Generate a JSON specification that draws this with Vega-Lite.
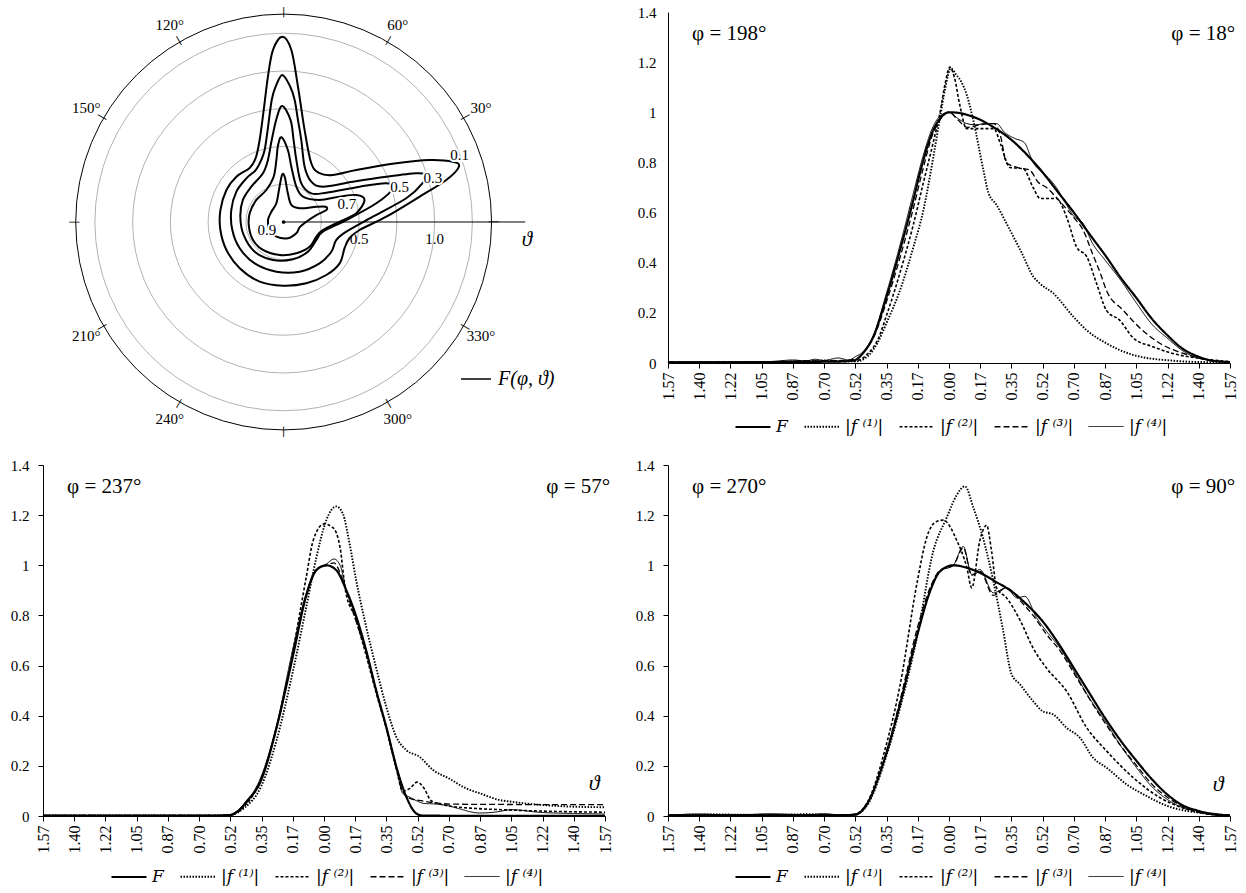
{
"$schema": "https://vega.github.io/schema/vega-lite/v6.json",
"padding": {"left": 10, "top": 5, "right": 5, "bottom": 5},
"background": "white",
"config": {"view": {"stroke": null}, "font": "Liberation Serif", "axis": {"labelFont": "Liberation Serif", "labelFontSize": 15, "labelColor": "black", "domainColor": "black", "tickColor": "black", "grid": false, "labelOverlap": false}},
"datasets": {
"rings": [{"r":0.25},{"r":0.5},{"r":0.75},{"r":1.0},{"r":1.25},{"r":1.377}],
"ticks": [{"deg":0},{"deg":30},{"deg":60},{"deg":90},{"deg":120},{"deg":150},{"deg":180},{"deg":210},{"deg":240},{"deg":270},{"deg":300},{"deg":330}],
"deglabels": [{"deg":30,"label":"30°"},{"deg":60,"label":"60°"},{"deg":120,"label":"120°"},{"deg":150,"label":"150°"},{"deg":210,"label":"210°"},{"deg":240,"label":"240°"},{"deg":300,"label":"300°"},{"deg":330,"label":"330°"}],
"rlabels": [{"v":0.5,"t":"0.5"},{"v":1.0,"t":"1.0"}],
"clabels": [{"t":"0.1","x":1.166,"y":0.444},{"t":"0.3","x":0.989,"y":0.289},{"t":"0.5","x":0.768,"y":0.234},{"t":"0.7","x":0.419,"y":0.119},{"t":"0.9","x":-0.111,"y":-0.053}],
"contours": [
{"lv":"0.1","i":0,"x":-0.009,"y":1.227},{"lv":"0.1","i":1,"x":-0.071,"y":1.139},{"lv":"0.1","i":2,"x":-0.104,"y":0.963},{"lv":"0.1","i":3,"x":-0.132,"y":0.742},{"lv":"0.1","i":4,"x":-0.159,"y":0.543},{"lv":"0.1","i":5,"x":-0.185,"y":0.424},{"lv":"0.1","i":6,"x":-0.225,"y":0.358},{"lv":"0.1","i":7,"x":-0.313,"y":0.3},{"lv":"0.1","i":8,"x":-0.379,"y":0.212},{"lv":"0.1","i":9,"x":-0.419,"y":0.079},{"lv":"0.1","i":10,"x":-0.419,"y":-0.053},{"lv":"0.1","i":11,"x":-0.379,"y":-0.185},{"lv":"0.1","i":12,"x":-0.291,"y":-0.307},{"lv":"0.1","i":13,"x":-0.159,"y":-0.395},{"lv":"0.1","i":14,"x":-0.005,"y":-0.422},{"lv":"0.1","i":15,"x":0.15,"y":-0.406},{"lv":"0.1","i":16,"x":0.283,"y":-0.351},{"lv":"0.1","i":17,"x":0.371,"y":-0.274},{"lv":"0.1","i":18,"x":0.404,"y":-0.172},{"lv":"0.1","i":19,"x":0.437,"y":-0.106},{"lv":"0.1","i":20,"x":0.503,"y":-0.053},{"lv":"0.1","i":21,"x":0.68,"y":0.035},{"lv":"0.1","i":22,"x":0.901,"y":0.168},{"lv":"0.1","i":23,"x":1.077,"y":0.278},{"lv":"0.1","i":24,"x":1.161,"y":0.366},{"lv":"0.1","i":25,"x":1.121,"y":0.399},{"lv":"0.1","i":26,"x":0.967,"y":0.411},{"lv":"0.1","i":27,"x":0.746,"y":0.389},{"lv":"0.1","i":28,"x":0.481,"y":0.344},{"lv":"0.1","i":29,"x":0.325,"y":0.311},{"lv":"0.1","i":30,"x":0.238,"y":0.323},{"lv":"0.1","i":31,"x":0.183,"y":0.389},{"lv":"0.1","i":32,"x":0.139,"y":0.609},{"lv":"0.1","i":33,"x":0.095,"y":0.896},{"lv":"0.1","i":34,"x":0.051,"y":1.139},
{"lv":"0.3","i":0,"x":-0.009,"y":0.974},{"lv":"0.3","i":1,"x":-0.053,"y":0.896},{"lv":"0.3","i":2,"x":-0.079,"y":0.808},{"lv":"0.3","i":3,"x":-0.106,"y":0.609},{"lv":"0.3","i":4,"x":-0.126,"y":0.477},{"lv":"0.3","i":5,"x":-0.148,"y":0.411},{"lv":"0.3","i":6,"x":-0.185,"y":0.344},{"lv":"0.3","i":7,"x":-0.247,"y":0.289},{"lv":"0.3","i":8,"x":-0.313,"y":0.201},{"lv":"0.3","i":9,"x":-0.347,"y":0.079},{"lv":"0.3","i":10,"x":-0.34,"y":-0.053},{"lv":"0.3","i":11,"x":-0.291,"y":-0.174},{"lv":"0.3","i":12,"x":-0.192,"y":-0.274},{"lv":"0.3","i":13,"x":-0.048,"y":-0.329},{"lv":"0.3","i":14,"x":0.106,"y":-0.329},{"lv":"0.3","i":15,"x":0.238,"y":-0.274},{"lv":"0.3","i":16,"x":0.316,"y":-0.197},{"lv":"0.3","i":17,"x":0.349,"y":-0.119},{"lv":"0.3","i":18,"x":0.415,"y":-0.064},{"lv":"0.3","i":19,"x":0.591,"y":0.035},{"lv":"0.3","i":20,"x":0.812,"y":0.157},{"lv":"0.3","i":21,"x":0.919,"y":0.256},{"lv":"0.3","i":22,"x":0.934,"y":0.311},{"lv":"0.3","i":23,"x":0.879,"y":0.323},{"lv":"0.3","i":24,"x":0.68,"y":0.3},{"lv":"0.3","i":25,"x":0.459,"y":0.267},{"lv":"0.3","i":26,"x":0.26,"y":0.234},{"lv":"0.3","i":27,"x":0.183,"y":0.267},{"lv":"0.3","i":28,"x":0.139,"y":0.366},{"lv":"0.3","i":29,"x":0.117,"y":0.543},{"lv":"0.3","i":30,"x":0.095,"y":0.675},{"lv":"0.3","i":31,"x":0.073,"y":0.808},{"lv":"0.3","i":32,"x":0.044,"y":0.896},
{"lv":"0.5","i":0,"x":-0.009,"y":0.768},{"lv":"0.5","i":1,"x":-0.046,"y":0.689},{"lv":"0.5","i":2,"x":-0.079,"y":0.543},{"lv":"0.5","i":3,"x":-0.104,"y":0.411},{"lv":"0.5","i":4,"x":-0.137,"y":0.323},{"lv":"0.5","i":5,"x":-0.214,"y":0.234},{"lv":"0.5","i":6,"x":-0.27,"y":0.146},{"lv":"0.5","i":7,"x":-0.287,"y":0.035},{"lv":"0.5","i":8,"x":-0.265,"y":-0.086},{"lv":"0.5","i":9,"x":-0.192,"y":-0.197},{"lv":"0.5","i":10,"x":-0.071,"y":-0.252},{"lv":"0.5","i":11,"x":0.062,"y":-0.247},{"lv":"0.5","i":12,"x":0.161,"y":-0.197},{"lv":"0.5","i":13,"x":0.217,"y":-0.119},{"lv":"0.5","i":14,"x":0.26,"y":-0.064},{"lv":"0.5","i":15,"x":0.415,"y":0.013},{"lv":"0.5","i":16,"x":0.614,"y":0.124},{"lv":"0.5","i":17,"x":0.724,"y":0.223},{"lv":"0.5","i":18,"x":0.68,"y":0.256},{"lv":"0.5","i":19,"x":0.503,"y":0.234},{"lv":"0.5","i":20,"x":0.283,"y":0.194},{"lv":"0.5","i":21,"x":0.183,"y":0.19},{"lv":"0.5","i":22,"x":0.117,"y":0.256},{"lv":"0.5","i":23,"x":0.084,"y":0.411},{"lv":"0.5","i":24,"x":0.066,"y":0.543},{"lv":"0.5","i":25,"x":0.046,"y":0.675},
{"lv":"0.7","i":0,"x":-0.015,"y":0.561},{"lv":"0.7","i":1,"x":-0.038,"y":0.503},{"lv":"0.7","i":2,"x":-0.048,"y":0.411},{"lv":"0.7","i":3,"x":-0.066,"y":0.3},{"lv":"0.7","i":4,"x":-0.115,"y":0.212},{"lv":"0.7","i":5,"x":-0.181,"y":0.146},{"lv":"0.7","i":6,"x":-0.225,"y":0.058},{"lv":"0.7","i":7,"x":-0.23,"y":-0.031},{"lv":"0.7","i":8,"x":-0.203,"y":-0.119},{"lv":"0.7","i":9,"x":-0.137,"y":-0.185},{"lv":"0.7","i":10,"x":-0.026,"y":-0.219},{"lv":"0.7","i":11,"x":0.084,"y":-0.207},{"lv":"0.7","i":12,"x":0.172,"y":-0.164},{"lv":"0.7","i":13,"x":0.217,"y":-0.097},{"lv":"0.7","i":14,"x":0.26,"y":-0.053},{"lv":"0.7","i":15,"x":0.371,"y":0.002},{"lv":"0.7","i":16,"x":0.481,"y":0.058},{"lv":"0.7","i":17,"x":0.536,"y":0.146},{"lv":"0.7","i":18,"x":0.481,"y":0.179},{"lv":"0.7","i":19,"x":0.371,"y":0.168},{"lv":"0.7","i":20,"x":0.238,"y":0.146},{"lv":"0.7","i":21,"x":0.128,"y":0.168},{"lv":"0.7","i":22,"x":0.084,"y":0.234},{"lv":"0.7","i":23,"x":0.051,"y":0.366},{"lv":"0.7","i":24,"x":0.028,"y":0.477},
{"lv":"0.9","i":0,"x":-0.011,"y":0.311},{"lv":"0.9","i":1,"x":-0.031,"y":0.212},{"lv":"0.9","i":2,"x":-0.048,"y":0.124},{"lv":"0.9","i":3,"x":-0.081,"y":0.068},{"lv":"0.9","i":4,"x":-0.104,"y":0.013},{"lv":"0.9","i":5,"x":-0.093,"y":-0.053},{"lv":"0.9","i":6,"x":-0.048,"y":-0.097},{"lv":"0.9","i":7,"x":0.028,"y":-0.108},{"lv":"0.9","i":8,"x":0.084,"y":-0.075},{"lv":"0.9","i":9,"x":0.106,"y":-0.035},{"lv":"0.9","i":10,"x":0.15,"y":0.002},{"lv":"0.9","i":11,"x":0.217,"y":0.046},{"lv":"0.9","i":12,"x":0.283,"y":0.079},{"lv":"0.9","i":13,"x":0.278,"y":0.101},{"lv":"0.9","i":14,"x":0.217,"y":0.101},{"lv":"0.9","i":15,"x":0.106,"y":0.091},{"lv":"0.9","i":16,"x":0.051,"y":0.113},{"lv":"0.9","i":17,"x":0.028,"y":0.19},{"lv":"0.9","i":18,"x":0.007,"y":0.3}
],
"tr": [
{"s":"F","x":-1.571,"y":0.003},{"s":"F","x":-1.2,"y":0.003},{"s":"F","x":-0.9,"y":0.004},{"s":"F","x":-0.7,"y":0.005},{"s":"F","x":-0.6,"y":0.006},{"s":"F","x":-0.524,"y":0.012},{"s":"F","x":-0.48,"y":0.04},{"s":"F","x":-0.423,"y":0.105},{"s":"F","x":-0.349,"y":0.264},{"s":"F","x":-0.274,"y":0.45},{"s":"F","x":-0.209,"y":0.623},{"s":"F","x":-0.143,"y":0.81},{"s":"F","x":-0.097,"y":0.914},{"s":"F","x":-0.05,"y":0.975},{"s":"F","x":0,"y":1.0},{"s":"F","x":0.05,"y":0.998},{"s":"F","x":0.1,"y":0.99},{"s":"F","x":0.175,"y":0.97},{"s":"F","x":0.25,"y":0.94},{"s":"F","x":0.349,"y":0.89},{"s":"F","x":0.45,"y":0.82},{"s":"F","x":0.524,"y":0.76},{"s":"F","x":0.6,"y":0.69},{"s":"F","x":0.698,"y":0.6},{"s":"F","x":0.8,"y":0.5},{"s":"F","x":0.873,"y":0.43},{"s":"F","x":0.96,"y":0.34},{"s":"F","x":1.047,"y":0.26},{"s":"F","x":1.13,"y":0.18},{"s":"F","x":1.222,"y":0.11},{"s":"F","x":1.3,"y":0.06},{"s":"F","x":1.396,"y":0.025},{"s":"F","x":1.48,"y":0.008},{"s":"F","x":1.571,"y":0.004},
{"s":"f1","x":-1.571,"y":0.003},{"s":"f1","x":-1.0,"y":0.004},{"s":"f1","x":-0.8,"y":0.008},{"s":"f1","x":-0.7,"y":0.01},{"s":"f1","x":-0.6,"y":0.008},{"s":"f1","x":-0.524,"y":0.006},{"s":"f1","x":-0.45,"y":0.03},{"s":"f1","x":-0.4,"y":0.08},{"s":"f1","x":-0.349,"y":0.16},{"s":"f1","x":-0.274,"y":0.29},{"s":"f1","x":-0.2,"y":0.46},{"s":"f1","x":-0.143,"y":0.61},{"s":"f1","x":-0.088,"y":0.82},{"s":"f1","x":-0.05,"y":0.98},{"s":"f1","x":-0.02,"y":1.1},{"s":"f1","x":0.01,"y":1.175},{"s":"f1","x":0.04,"y":1.15},{"s":"f1","x":0.07,"y":1.12},{"s":"f1","x":0.099,"y":1.07},{"s":"f1","x":0.136,"y":0.968},{"s":"f1","x":0.192,"y":0.77},{"s":"f1","x":0.22,"y":0.68},{"s":"f1","x":0.266,"y":0.63},{"s":"f1","x":0.341,"y":0.53},{"s":"f1","x":0.406,"y":0.44},{"s":"f1","x":0.471,"y":0.345},{"s":"f1","x":0.508,"y":0.317},{"s":"f1","x":0.583,"y":0.278},{"s":"f1","x":0.695,"y":0.185},{"s":"f1","x":0.769,"y":0.131},{"s":"f1","x":0.881,"y":0.078},{"s":"f1","x":1.03,"y":0.032},{"s":"f1","x":1.253,"y":0.009},{"s":"f1","x":1.4,"y":0.004},{"s":"f1","x":1.571,"y":0.003},
{"s":"f2","x":-1.571,"y":0.003},{"s":"f2","x":-1.0,"y":0.004},{"s":"f2","x":-0.8,"y":0.006},{"s":"f2","x":-0.6,"y":0.006},{"s":"f2","x":-0.524,"y":0.008},{"s":"f2","x":-0.45,"y":0.04},{"s":"f2","x":-0.4,"y":0.09},{"s":"f2","x":-0.349,"y":0.19},{"s":"f2","x":-0.274,"y":0.36},{"s":"f2","x":-0.2,"y":0.55},{"s":"f2","x":-0.143,"y":0.72},{"s":"f2","x":-0.088,"y":0.88},{"s":"f2","x":-0.05,"y":1.0},{"s":"f2","x":-0.02,"y":1.12},{"s":"f2","x":0.005,"y":1.18},{"s":"f2","x":0.03,"y":1.14},{"s":"f2","x":0.06,"y":1.03},{"s":"f2","x":0.099,"y":0.935},{"s":"f2","x":0.15,"y":0.935},{"s":"f2","x":0.25,"y":0.935},{"s":"f2","x":0.29,"y":0.87},{"s":"f2","x":0.34,"y":0.78},{"s":"f2","x":0.415,"y":0.775},{"s":"f2","x":0.47,"y":0.7},{"s":"f2","x":0.51,"y":0.656},{"s":"f2","x":0.6,"y":0.656},{"s":"f2","x":0.657,"y":0.583},{"s":"f2","x":0.713,"y":0.463},{"s":"f2","x":0.77,"y":0.424},{"s":"f2","x":0.825,"y":0.317},{"s":"f2","x":0.88,"y":0.21},{"s":"f2","x":0.955,"y":0.17},{"s":"f2","x":1.03,"y":0.1},{"s":"f2","x":1.14,"y":0.065},{"s":"f2","x":1.25,"y":0.038},{"s":"f2","x":1.396,"y":0.019},{"s":"f2","x":1.571,"y":0.005},
{"s":"f3","x":-1.571,"y":0.003},{"s":"f3","x":-1.0,"y":0.004},{"s":"f3","x":-0.8,"y":0.008},{"s":"f3","x":-0.6,"y":0.01},{"s":"f3","x":-0.524,"y":0.015},{"s":"f3","x":-0.48,"y":0.04},{"s":"f3","x":-0.423,"y":0.1},{"s":"f3","x":-0.349,"y":0.245},{"s":"f3","x":-0.274,"y":0.42},{"s":"f3","x":-0.209,"y":0.59},{"s":"f3","x":-0.143,"y":0.78},{"s":"f3","x":-0.097,"y":0.9},{"s":"f3","x":-0.05,"y":0.97},{"s":"f3","x":0,"y":1.0},{"s":"f3","x":0.05,"y":0.97},{"s":"f3","x":0.1,"y":0.94},{"s":"f3","x":0.175,"y":0.95},{"s":"f3","x":0.25,"y":0.955},{"s":"f3","x":0.29,"y":0.9},{"s":"f3","x":0.32,"y":0.8},{"s":"f3","x":0.38,"y":0.78},{"s":"f3","x":0.45,"y":0.77},{"s":"f3","x":0.5,"y":0.72},{"s":"f3","x":0.545,"y":0.7},{"s":"f3","x":0.6,"y":0.66},{"s":"f3","x":0.65,"y":0.62},{"s":"f3","x":0.698,"y":0.58},{"s":"f3","x":0.75,"y":0.53},{"s":"f3","x":0.8,"y":0.44},{"s":"f3","x":0.85,"y":0.35},{"s":"f3","x":0.88,"y":0.29},{"s":"f3","x":0.974,"y":0.21},{"s":"f3","x":1.067,"y":0.14},{"s":"f3","x":1.18,"y":0.078},{"s":"f3","x":1.31,"y":0.038},{"s":"f3","x":1.45,"y":0.012},{"s":"f3","x":1.571,"y":0.004},
{"s":"f4","x":-1.571,"y":0.003},{"s":"f4","x":-1.2,"y":0.004},{"s":"f4","x":-1.0,"y":0.006},{"s":"f4","x":-0.87,"y":0.012},{"s":"f4","x":-0.8,"y":0.008},{"s":"f4","x":-0.75,"y":0.015},{"s":"f4","x":-0.7,"y":0.01},{"s":"f4","x":-0.62,"y":0.02},{"s":"f4","x":-0.56,"y":0.012},{"s":"f4","x":-0.524,"y":0.025},{"s":"f4","x":-0.48,"y":0.045},{"s":"f4","x":-0.423,"y":0.11},{"s":"f4","x":-0.349,"y":0.28},{"s":"f4","x":-0.274,"y":0.47},{"s":"f4","x":-0.209,"y":0.65},{"s":"f4","x":-0.143,"y":0.83},{"s":"f4","x":-0.097,"y":0.93},{"s":"f4","x":-0.05,"y":0.985},{"s":"f4","x":0,"y":1.0},{"s":"f4","x":0.05,"y":0.975},{"s":"f4","x":0.1,"y":0.955},{"s":"f4","x":0.15,"y":0.95},{"s":"f4","x":0.2,"y":0.955},{"s":"f4","x":0.266,"y":0.955},{"s":"f4","x":0.31,"y":0.92},{"s":"f4","x":0.37,"y":0.895},{"s":"f4","x":0.42,"y":0.88},{"s":"f4","x":0.47,"y":0.8},{"s":"f4","x":0.52,"y":0.76},{"s":"f4","x":0.56,"y":0.735},{"s":"f4","x":0.6,"y":0.7},{"s":"f4","x":0.65,"y":0.64},{"s":"f4","x":0.698,"y":0.585},{"s":"f4","x":0.75,"y":0.556},{"s":"f4","x":0.8,"y":0.48},{"s":"f4","x":0.873,"y":0.41},{"s":"f4","x":0.96,"y":0.33},{"s":"f4","x":1.047,"y":0.24},{"s":"f4","x":1.13,"y":0.158},{"s":"f4","x":1.222,"y":0.098},{"s":"f4","x":1.3,"y":0.052},{"s":"f4","x":1.396,"y":0.019},{"s":"f4","x":1.571,"y":0.004}
],
"bl": [
{"s":"F","x":-1.571,"y":0.001},{"s":"F","x":-0.6,"y":0.001},{"s":"F","x":-0.527,"y":0.003},{"s":"F","x":-0.48,"y":0.02},{"s":"F","x":-0.434,"y":0.057},{"s":"F","x":-0.35,"y":0.145},{"s":"F","x":-0.266,"y":0.35},{"s":"F","x":-0.173,"y":0.64},{"s":"F","x":-0.099,"y":0.88},{"s":"F","x":-0.043,"y":0.98},{"s":"F","x":0.013,"y":1.0},{"s":"F","x":0.069,"y":0.98},{"s":"F","x":0.125,"y":0.9},{"s":"F","x":0.175,"y":0.807},{"s":"F","x":0.236,"y":0.66},{"s":"F","x":0.292,"y":0.5},{"s":"F","x":0.348,"y":0.356},{"s":"F","x":0.404,"y":0.197},{"s":"F","x":0.46,"y":0.077},{"s":"F","x":0.516,"y":0.01},{"s":"F","x":0.55,"y":0.002},{"s":"F","x":0.7,"y":0.001},{"s":"F","x":1.571,"y":0.001},
{"s":"f1","x":-1.571,"y":0.002},{"s":"f1","x":-0.6,"y":0.002},{"s":"f1","x":-0.527,"y":0.004},{"s":"f1","x":-0.45,"y":0.03},{"s":"f1","x":-0.35,"y":0.12},{"s":"f1","x":-0.266,"y":0.3},{"s":"f1","x":-0.173,"y":0.58},{"s":"f1","x":-0.099,"y":0.834},{"s":"f1","x":-0.043,"y":1.03},{"s":"f1","x":0.013,"y":1.18},{"s":"f1","x":0.069,"y":1.235},{"s":"f1","x":0.106,"y":1.205},{"s":"f1","x":0.143,"y":1.086},{"s":"f1","x":0.18,"y":0.94},{"s":"f1","x":0.236,"y":0.754},{"s":"f1","x":0.29,"y":0.595},{"s":"f1","x":0.348,"y":0.436},{"s":"f1","x":0.404,"y":0.316},{"s":"f1","x":0.46,"y":0.263},{"s":"f1","x":0.534,"y":0.236},{"s":"f1","x":0.61,"y":0.183},{"s":"f1","x":0.698,"y":0.15},{"s":"f1","x":0.795,"y":0.11},{"s":"f1","x":0.873,"y":0.09},{"s":"f1","x":0.98,"y":0.064},{"s":"f1","x":1.047,"y":0.057},{"s":"f1","x":1.22,"y":0.044},{"s":"f1","x":1.4,"y":0.037},{"s":"f1","x":1.571,"y":0.035},
{"s":"f2","x":-1.571,"y":0.002},{"s":"f2","x":-0.6,"y":0.002},{"s":"f2","x":-0.527,"y":0.004},{"s":"f2","x":-0.45,"y":0.035},{"s":"f2","x":-0.35,"y":0.15},{"s":"f2","x":-0.266,"y":0.35},{"s":"f2","x":-0.173,"y":0.66},{"s":"f2","x":-0.1,"y":0.95},{"s":"f2","x":-0.06,"y":1.1},{"s":"f2","x":0,"y":1.165},{"s":"f2","x":0.05,"y":1.15},{"s":"f2","x":0.09,"y":1.07},{"s":"f2","x":0.12,"y":0.9},{"s":"f2","x":0.175,"y":0.79},{"s":"f2","x":0.236,"y":0.64},{"s":"f2","x":0.292,"y":0.49},{"s":"f2","x":0.348,"y":0.35},{"s":"f2","x":0.404,"y":0.19},{"s":"f2","x":0.44,"y":0.1},{"s":"f2","x":0.48,"y":0.11},{"s":"f2","x":0.52,"y":0.135},{"s":"f2","x":0.56,"y":0.11},{"s":"f2","x":0.6,"y":0.06},{"s":"f2","x":0.7,"y":0.04},{"s":"f2","x":0.85,"y":0.03},{"s":"f2","x":1.0,"y":0.025},{"s":"f2","x":1.2,"y":0.02},{"s":"f2","x":1.571,"y":0.015},
{"s":"f3","x":-1.571,"y":0.002},{"s":"f3","x":-0.6,"y":0.002},{"s":"f3","x":-0.527,"y":0.005},{"s":"f3","x":-0.45,"y":0.04},{"s":"f3","x":-0.35,"y":0.15},{"s":"f3","x":-0.266,"y":0.35},{"s":"f3","x":-0.173,"y":0.65},{"s":"f3","x":-0.099,"y":0.88},{"s":"f3","x":-0.043,"y":0.98},{"s":"f3","x":0.013,"y":1.0},{"s":"f3","x":0.056,"y":1.01},{"s":"f3","x":0.1,"y":0.95},{"s":"f3","x":0.15,"y":0.84},{"s":"f3","x":0.236,"y":0.65},{"s":"f3","x":0.292,"y":0.5},{"s":"f3","x":0.348,"y":0.35},{"s":"f3","x":0.404,"y":0.19},{"s":"f3","x":0.44,"y":0.1},{"s":"f3","x":0.48,"y":0.07},{"s":"f3","x":0.55,"y":0.06},{"s":"f3","x":0.65,"y":0.05},{"s":"f3","x":0.75,"y":0.047},{"s":"f3","x":1.0,"y":0.046},{"s":"f3","x":1.571,"y":0.045},
{"s":"f4","x":-1.571,"y":0.003},{"s":"f4","x":-0.6,"y":0.003},{"s":"f4","x":-0.527,"y":0.006},{"s":"f4","x":-0.45,"y":0.045},{"s":"f4","x":-0.35,"y":0.16},{"s":"f4","x":-0.266,"y":0.36},{"s":"f4","x":-0.173,"y":0.67},{"s":"f4","x":-0.099,"y":0.89},{"s":"f4","x":-0.043,"y":0.985},{"s":"f4","x":0.013,"y":1.005},{"s":"f4","x":0.056,"y":1.025},{"s":"f4","x":0.09,"y":1.0},{"s":"f4","x":0.125,"y":0.9},{"s":"f4","x":0.175,"y":0.8},{"s":"f4","x":0.236,"y":0.655},{"s":"f4","x":0.292,"y":0.5},{"s":"f4","x":0.348,"y":0.355},{"s":"f4","x":0.404,"y":0.2},{"s":"f4","x":0.44,"y":0.09},{"s":"f4","x":0.48,"y":0.075},{"s":"f4","x":0.52,"y":0.06},{"s":"f4","x":0.56,"y":0.05},{"s":"f4","x":0.62,"y":0.048},{"s":"f4","x":0.7,"y":0.04},{"s":"f4","x":0.75,"y":0.03},{"s":"f4","x":0.87,"y":0.012},{"s":"f4","x":0.95,"y":0.015},{"s":"f4","x":1.05,"y":0.025},{"s":"f4","x":1.2,"y":0.015},{"s":"f4","x":1.4,"y":0.01},{"s":"f4","x":1.571,"y":0.008}
],
"br": [
{"s":"F","x":-1.571,"y":0.002},{"s":"F","x":-0.6,"y":0.003},{"s":"F","x":-0.525,"y":0.005},{"s":"F","x":-0.46,"y":0.046},{"s":"F","x":-0.352,"y":0.246},{"s":"F","x":-0.274,"y":0.445},{"s":"F","x":-0.177,"y":0.724},{"s":"F","x":-0.106,"y":0.896},{"s":"F","x":-0.05,"y":0.976},{"s":"F","x":0.024,"y":1.0},{"s":"F","x":0.1,"y":0.99},{"s":"F","x":0.173,"y":0.97},{"s":"F","x":0.26,"y":0.935},{"s":"F","x":0.35,"y":0.896},{"s":"F","x":0.44,"y":0.84},{"s":"F","x":0.523,"y":0.777},{"s":"F","x":0.61,"y":0.69},{"s":"F","x":0.698,"y":0.59},{"s":"F","x":0.785,"y":0.49},{"s":"F","x":0.873,"y":0.39},{"s":"F","x":0.96,"y":0.3},{"s":"F","x":1.048,"y":0.22},{"s":"F","x":1.13,"y":0.15},{"s":"F","x":1.22,"y":0.086},{"s":"F","x":1.3,"y":0.045},{"s":"F","x":1.397,"y":0.02},{"s":"F","x":1.48,"y":0.006},{"s":"F","x":1.571,"y":0.002},
{"s":"f1","x":-1.571,"y":0.003},{"s":"f1","x":-1.3,"y":0.006},{"s":"f1","x":-1.0,"y":0.004},{"s":"f1","x":-0.8,"y":0.007},{"s":"f1","x":-0.6,"y":0.004},{"s":"f1","x":-0.525,"y":0.006},{"s":"f1","x":-0.46,"y":0.04},{"s":"f1","x":-0.352,"y":0.235},{"s":"f1","x":-0.274,"y":0.43},{"s":"f1","x":-0.177,"y":0.72},{"s":"f1","x":-0.088,"y":1.056},{"s":"f1","x":-0.013,"y":1.19},{"s":"f1","x":0.043,"y":1.28},{"s":"f1","x":0.089,"y":1.315},{"s":"f1","x":0.136,"y":1.23},{"s":"f1","x":0.19,"y":1.11},{"s":"f1","x":0.248,"y":0.936},{"s":"f1","x":0.3,"y":0.75},{"s":"f1","x":0.35,"y":0.565},{"s":"f1","x":0.397,"y":0.525},{"s":"f1","x":0.47,"y":0.458},{"s":"f1","x":0.523,"y":0.418},{"s":"f1","x":0.583,"y":0.405},{"s":"f1","x":0.657,"y":0.352},{"s":"f1","x":0.732,"y":0.312},{"s":"f1","x":0.806,"y":0.232},{"s":"f1","x":0.88,"y":0.193},{"s":"f1","x":0.993,"y":0.126},{"s":"f1","x":1.104,"y":0.08},{"s":"f1","x":1.22,"y":0.04},{"s":"f1","x":1.4,"y":0.013},{"s":"f1","x":1.571,"y":0.003},
{"s":"f2","x":-1.571,"y":0.003},{"s":"f2","x":-0.6,"y":0.004},{"s":"f2","x":-0.525,"y":0.008},{"s":"f2","x":-0.46,"y":0.05},{"s":"f2","x":-0.352,"y":0.28},{"s":"f2","x":-0.274,"y":0.52},{"s":"f2","x":-0.177,"y":0.936},{"s":"f2","x":-0.125,"y":1.11},{"s":"f2","x":-0.069,"y":1.175},{"s":"f2","x":-0.032,"y":1.18},{"s":"f2","x":0.043,"y":1.1},{"s":"f2","x":0.1,"y":0.99},{"s":"f2","x":0.127,"y":0.91},{"s":"f2","x":0.173,"y":1.1},{"s":"f2","x":0.21,"y":1.16},{"s":"f2","x":0.238,"y":1.056},{"s":"f2","x":0.266,"y":0.91},{"s":"f2","x":0.322,"y":0.87},{"s":"f2","x":0.4,"y":0.777},{"s":"f2","x":0.47,"y":0.67},{"s":"f2","x":0.545,"y":0.59},{"s":"f2","x":0.657,"y":0.498},{"s":"f2","x":0.77,"y":0.352},{"s":"f2","x":0.88,"y":0.26},{"s":"f2","x":1.03,"y":0.153},{"s":"f2","x":1.18,"y":0.073},{"s":"f2","x":1.33,"y":0.027},{"s":"f2","x":1.45,"y":0.008},{"s":"f2","x":1.571,"y":0.003},
{"s":"f3","x":-1.571,"y":0.003},{"s":"f3","x":-0.6,"y":0.004},{"s":"f3","x":-0.525,"y":0.006},{"s":"f3","x":-0.46,"y":0.048},{"s":"f3","x":-0.352,"y":0.25},{"s":"f3","x":-0.274,"y":0.46},{"s":"f3","x":-0.177,"y":0.75},{"s":"f3","x":-0.106,"y":0.91},{"s":"f3","x":-0.05,"y":0.98},{"s":"f3","x":0.024,"y":1.0},{"s":"f3","x":0.08,"y":1.07},{"s":"f3","x":0.127,"y":0.96},{"s":"f3","x":0.173,"y":0.976},{"s":"f3","x":0.248,"y":0.88},{"s":"f3","x":0.32,"y":0.91},{"s":"f3","x":0.4,"y":0.857},{"s":"f3","x":0.47,"y":0.8},{"s":"f3","x":0.55,"y":0.72},{"s":"f3","x":0.62,"y":0.66},{"s":"f3","x":0.698,"y":0.57},{"s":"f3","x":0.8,"y":0.45},{"s":"f3","x":0.873,"y":0.37},{"s":"f3","x":0.96,"y":0.28},{"s":"f3","x":1.05,"y":0.2},{"s":"f3","x":1.13,"y":0.13},{"s":"f3","x":1.22,"y":0.075},{"s":"f3","x":1.3,"y":0.04},{"s":"f3","x":1.4,"y":0.015},{"s":"f3","x":1.571,"y":0.003},
{"s":"f4","x":-1.571,"y":0.003},{"s":"f4","x":-1.4,"y":0.008},{"s":"f4","x":-1.2,"y":0.004},{"s":"f4","x":-1.0,"y":0.009},{"s":"f4","x":-0.8,"y":0.005},{"s":"f4","x":-0.7,"y":0.009},{"s":"f4","x":-0.6,"y":0.004},{"s":"f4","x":-0.525,"y":0.006},{"s":"f4","x":-0.46,"y":0.046},{"s":"f4","x":-0.352,"y":0.246},{"s":"f4","x":-0.274,"y":0.445},{"s":"f4","x":-0.177,"y":0.724},{"s":"f4","x":-0.106,"y":0.896},{"s":"f4","x":-0.05,"y":0.976},{"s":"f4","x":0.024,"y":1.0},{"s":"f4","x":0.08,"y":1.075},{"s":"f4","x":0.127,"y":0.963},{"s":"f4","x":0.173,"y":0.983},{"s":"f4","x":0.248,"y":0.89},{"s":"f4","x":0.32,"y":0.91},{"s":"f4","x":0.38,"y":0.87},{"s":"f4","x":0.424,"y":0.876},{"s":"f4","x":0.49,"y":0.79},{"s":"f4","x":0.545,"y":0.737},{"s":"f4","x":0.62,"y":0.67},{"s":"f4","x":0.698,"y":0.578},{"s":"f4","x":0.785,"y":0.47},{"s":"f4","x":0.873,"y":0.378},{"s":"f4","x":0.96,"y":0.28},{"s":"f4","x":1.048,"y":0.193},{"s":"f4","x":1.13,"y":0.12},{"s":"f4","x":1.22,"y":0.066},{"s":"f4","x":1.3,"y":0.035},{"s":"f4","x":1.397,"y":0.02},{"s":"f4","x":1.571,"y":0.003}
]
},
"columns": 2,
"bounds": "flush",
"spacing": {"row": 102, "column": 63},
"resolve": {"scale": {"x":"independent","y":"independent","strokeDash":"independent","strokeWidth":"independent","stroke":"independent","radius":"independent","theta":"independent","angle":"independent"}, "axis": {"x":"independent","y":"independent"}, "legend": {"strokeDash":"independent","strokeWidth":"independent","stroke":"independent"}},
"concat": [
{
"width": 500, "height": 351,
"layer": [
{"data": {"name": "rings"}, "transform": [{"filter": "datum.r < 1.3"}],
 "mark": {"type": "arc", "theta": 0, "theta2": 6.2832, "filled": false, "stroke": "#b3b3b3", "strokeWidth": 1},
 "encoding": {
  "x": {"datum": 0, "type": "quantitative", "scale": {"domain": [-1.594, 1.718], "nice": false, "zero": false}, "axis": null},
  "y": {"datum": 0, "type": "quantitative", "scale": {"domain": [-0.934, 1.391], "nice": false, "zero": false}, "axis": null},
  "radius": {"field": "r", "type": "quantitative", "stack": null, "scale": {"type": "linear", "domain": [0, 1], "range": [0, 151], "zero": true, "nice": false}}
 }},
{"data": {"name": "rings"}, "transform": [{"filter": "datum.r > 1.3"}],
 "mark": {"type": "arc", "theta": 0, "theta2": 6.2832, "filled": false, "stroke": "black", "strokeWidth": 1},
 "encoding": {
  "x": {"datum": 0, "type": "quantitative", "axis": null},
  "y": {"datum": 0, "type": "quantitative", "axis": null},
  "radius": {"field": "r", "type": "quantitative", "stack": null}
 }},
{"data": {"name": "ticks"},
 "mark": {"type": "text", "text": "|", "font": "DejaVu Sans", "fontSize": 10, "align": "center", "baseline": "middle", "color": "black"},
 "encoding": {
  "x": {"datum": 0, "type": "quantitative", "axis": null},
  "y": {"datum": 0, "type": "quantitative", "axis": null},
  "theta": {"field": "deg", "type": "quantitative", "stack": null, "scale": {"domain": [0, 360], "range": [1.5708, -4.7124]}},
  "radius": {"datum": 1.39, "type": "quantitative"},
  "angle": {"field": "deg", "type": "quantitative", "scale": {"domain": [0, 360], "range": [90, -270]}, "legend": null}
 }},
{"data": {"name": "deglabels"},
 "mark": {"type": "text", "font": "Liberation Serif", "fontSize": 15, "align": "center", "baseline": "middle", "color": "black"},
 "encoding": {
  "x": {"datum": 0, "type": "quantitative", "axis": null},
  "y": {"datum": 0, "type": "quantitative", "axis": null},
  "theta": {"field": "deg", "type": "quantitative", "stack": null},
  "radius": {"datum": 1.51, "type": "quantitative"},
  "text": {"field": "label"}
 }},
{"data": {"values": [{}]},
 "mark": {"type": "rule", "color": "black", "strokeWidth": 1},
 "encoding": {
  "x": {"datum": 0, "type": "quantitative", "axis": null},
  "x2": {"datum": 1.6},
  "y": {"datum": 0, "type": "quantitative", "axis": null}
 }},
{"data": {"name": "rlabels"},
 "mark": {"type": "text", "font": "Liberation Serif", "fontSize": 15, "align": "center", "baseline": "middle", "dy": 17, "color": "black"},
 "encoding": {
  "x": {"field": "v", "type": "quantitative", "axis": null},
  "y": {"datum": 0, "type": "quantitative", "axis": null},
  "text": {"field": "t"}
 }},
{"data": {"values": [{}]},
 "mark": {"type": "text", "font": "Liberation Serif", "fontSize": 21, "fontStyle": "italic", "align": "center", "baseline": "middle", "dy": 18, "color": "black"},
 "encoding": {
  "x": {"datum": 1.612, "type": "quantitative", "axis": null},
  "y": {"datum": 0, "type": "quantitative", "axis": null},
  "text": {"value": "ϑ"}
 }},
{"data": {"name": "contours"},
 "mark": {"type": "line", "interpolate": "cardinal-closed", "strokeWidth": 2},
 "encoding": {
  "x": {"field": "x", "type": "quantitative", "axis": null},
  "y": {"field": "y", "type": "quantitative", "axis": null},
  "detail": {"field": "lv"},
  "order": {"field": "i", "type": "quantitative"},
  "stroke": {"datum": "F(φ, ϑ)", "type": "nominal", "scale": {"range": ["black"]},
   "legend": {"orient": "none", "legendX": 417, "legendY": 351, "title": null, "symbolType": "stroke", "symbolSize": 900, "symbolStrokeWidth": 1.5, "labelFont": "Liberation Serif", "labelFontStyle": "italic", "labelFontSize": 20, "labelColor": "black", "labelOffset": 6}}
 }},
{"data": {"name": "clabels"},
 "mark": {"type": "text", "font": "Liberation Serif", "fontSize": 15, "align": "center", "baseline": "middle", "stroke": "white", "strokeWidth": 4, "color": "white"},
 "encoding": {
  "x": {"field": "x", "type": "quantitative", "axis": null},
  "y": {"field": "y", "type": "quantitative", "axis": null},
  "text": {"field": "t"}
 }},
{"data": {"name": "clabels"},
 "mark": {"type": "text", "font": "Liberation Serif", "fontSize": 15, "align": "center", "baseline": "middle", "color": "black"},
 "encoding": {
  "x": {"field": "x", "type": "quantitative", "axis": null},
  "y": {"field": "y", "type": "quantitative", "axis": null},
  "text": {"field": "t"}
 }},
{"data": {"values": [{}]},
 "mark": {"type": "point", "filled": true, "color": "black", "size": 14, "opacity": 1},
 "encoding": {
  "x": {"datum": 0, "type": "quantitative", "axis": null},
  "y": {"datum": 0, "type": "quantitative", "axis": null}
 }}
]
},
{
"width": 562, "height": 351,
"layer": [
{"data": {"name": "tr"},
 "mark": {"type": "line", "interpolate": "monotone", "color": "black"},
 "encoding": {
  "x": {"field": "x", "type": "quantitative", "scale": {"domain": [-1.5708, 1.5708], "nice": false, "zero": false},
   "axis": {"values": [-1.5708,-1.3963,-1.2217,-1.0472,-0.8727,-0.6981,-0.5236,-0.3491,-0.1745,0,0.1745,0.3491,0.5236,0.6981,0.8727,1.0472,1.2217,1.3963,1.5708], "tickCount": 40, "labelExpr": "format(abs(datum.value), '.2f')", "labelAngle": 270, "labelFontSize": 16, "labelOverlap": false, "labelFlush": false, "labelBound": false, "tickSize": 5, "labelPadding": 4, "title": null}},
  "y": {"field": "y", "type": "quantitative", "scale": {"domain": [0, 1.4], "nice": false},
   "axis": {"values": [0,0.2,0.4,0.6,0.8,1,1.2,1.4], "tickCount": 20, "format": ".1~f", "ticks": false, "labelPadding": 12, "title": null}},
  "strokeDash": {"field": "s", "type": "nominal", "scale": {"domain": ["F","f1","f2","f3","f4"], "range": [[1,0],[1.5,1.5],[3,2],[6,3],[1,0]]},
   "legend": {"orient": "none", "legendX": 66, "legendY": 396, "direction": "horizontal", "columns": 5, "title": null, "symbolType": "stroke", "symbolSize": 1225, "symbolStrokeColor": "black", "labelFont": "DejaVu Serif", "labelFontStyle": "italic", "labelFontSize": 17, "labelColor": "black", "labelOffset": 4, "columnPadding": 12, "labelExpr": "datum.label == 'F' ? 'F' : datum.label == 'f1' ? '|f ⁽¹⁾|' : datum.label == 'f2' ? '|f ⁽²⁾|' : datum.label == 'f3' ? '|f ⁽³⁾|' : '|f ⁽⁴⁾|'"}},
  "strokeWidth": {"field": "s", "type": "nominal", "scale": {"domain": ["F","f1","f2","f3","f4"], "range": [2.2,1,1,1,1]},
   "legend": {"orient": "none", "legendX": 66, "legendY": 396, "direction": "horizontal", "columns": 5, "title": null, "symbolType": "stroke", "symbolSize": 1225, "symbolStrokeColor": "black", "labelFont": "DejaVu Serif", "labelFontStyle": "italic", "labelFontSize": 17, "labelColor": "black", "labelOffset": 4, "columnPadding": 12, "labelExpr": "datum.label == 'F' ? 'F' : datum.label == 'f1' ? '|f ⁽¹⁾|' : datum.label == 'f2' ? '|f ⁽²⁾|' : datum.label == 'f3' ? '|f ⁽³⁾|' : '|f ⁽⁴⁾|'"}}
 }},
{"data": {"values": [{}]},
 "mark": {"type": "text", "font": "Liberation Serif", "fontSize": 21, "align": "left", "baseline": "middle", "color": "black"},
 "encoding": {"x": {"datum": -1.436}, "y": {"datum": 1.314}, "text": {"value": "φ = 198°"}}},
{"data": {"values": [{}]},
 "mark": {"type": "text", "font": "Liberation Serif", "fontSize": 21, "align": "right", "baseline": "middle", "color": "black"},
 "encoding": {"x": {"datum": 1.6}, "y": {"datum": 1.314}, "text": {"value": "φ = 18°"}}}
]
},
{
"width": 562, "height": 351,
"layer": [
{"data": {"name": "bl"},
 "mark": {"type": "line", "interpolate": "monotone", "color": "black"},
 "encoding": {
  "x": {"field": "x", "type": "quantitative", "scale": {"domain": [-1.5708, 1.5708], "nice": false, "zero": false},
   "axis": {"values": [-1.5708,-1.3963,-1.2217,-1.0472,-0.8727,-0.6981,-0.5236,-0.3491,-0.1745,0,0.1745,0.3491,0.5236,0.6981,0.8727,1.0472,1.2217,1.3963,1.5708], "tickCount": 40, "labelExpr": "format(abs(datum.value), '.2f')", "labelAngle": 270, "labelFontSize": 16, "labelOverlap": false, "labelFlush": false, "labelBound": false, "tickSize": 5, "labelPadding": 4, "title": null}},
  "y": {"field": "y", "type": "quantitative", "scale": {"domain": [0, 1.4], "nice": false},
   "axis": {"values": [0,0.2,0.4,0.6,0.8,1,1.2,1.4], "tickCount": 20, "format": ".1~f", "tickSize": 5, "labelPadding": 9, "title": null}},
  "strokeDash": {"field": "s", "type": "nominal", "scale": {"domain": ["F","f1","f2","f3","f4"], "range": [[1,0],[1.5,1.5],[3,2],[6,3],[1,0]]},
   "legend": {"orient": "none", "legendX": 67, "legendY": 393, "direction": "horizontal", "columns": 5, "title": null, "symbolType": "stroke", "symbolSize": 1225, "symbolStrokeColor": "black", "labelFont": "DejaVu Serif", "labelFontStyle": "italic", "labelFontSize": 17, "labelColor": "black", "labelOffset": 4, "columnPadding": 12, "labelExpr": "datum.label == 'F' ? 'F' : datum.label == 'f1' ? '|f ⁽¹⁾|' : datum.label == 'f2' ? '|f ⁽²⁾|' : datum.label == 'f3' ? '|f ⁽³⁾|' : '|f ⁽⁴⁾|'"}},
  "strokeWidth": {"field": "s", "type": "nominal", "scale": {"domain": ["F","f1","f2","f3","f4"], "range": [2.2,1,1,1,1]},
   "legend": {"orient": "none", "legendX": 67, "legendY": 393, "direction": "horizontal", "columns": 5, "title": null, "symbolType": "stroke", "symbolSize": 1225, "symbolStrokeColor": "black", "labelFont": "DejaVu Serif", "labelFontStyle": "italic", "labelFontSize": 17, "labelColor": "black", "labelOffset": 4, "columnPadding": 12, "labelExpr": "datum.label == 'F' ? 'F' : datum.label == 'f1' ? '|f ⁽¹⁾|' : datum.label == 'f2' ? '|f ⁽²⁾|' : datum.label == 'f3' ? '|f ⁽³⁾|' : '|f ⁽⁴⁾|'"}}
 }},
{"data": {"values": [{}]},
 "mark": {"type": "text", "font": "Liberation Serif", "fontSize": 21, "align": "left", "baseline": "middle", "color": "black"},
 "encoding": {"x": {"datum": -1.436}, "y": {"datum": 1.314}, "text": {"value": "φ = 237°"}}},
{"data": {"values": [{}]},
 "mark": {"type": "text", "font": "Liberation Serif", "fontSize": 21, "align": "right", "baseline": "middle", "color": "black"},
 "encoding": {"x": {"datum": 1.6}, "y": {"datum": 1.314}, "text": {"value": "φ = 57°"}}},
{"data": {"values": [{}]},
 "mark": {"type": "text", "font": "Liberation Serif", "fontSize": 22, "fontStyle": "italic", "align": "center", "baseline": "middle", "color": "black"},
 "encoding": {"x": {"datum": 1.51}, "y": {"datum": 0.13}, "text": {"value": "ϑ"}}}
]
},
{
"width": 562, "height": 351,
"layer": [
{"data": {"name": "br"},
 "mark": {"type": "line", "interpolate": "monotone", "color": "black"},
 "encoding": {
  "x": {"field": "x", "type": "quantitative", "scale": {"domain": [-1.5708, 1.5708], "nice": false, "zero": false},
   "axis": {"values": [-1.5708,-1.3963,-1.2217,-1.0472,-0.8727,-0.6981,-0.5236,-0.3491,-0.1745,0,0.1745,0.3491,0.5236,0.6981,0.8727,1.0472,1.2217,1.3963,1.5708], "tickCount": 40, "labelExpr": "format(abs(datum.value), '.2f')", "labelAngle": 270, "labelFontSize": 16, "labelOverlap": false, "labelFlush": false, "labelBound": false, "tickSize": 5, "labelPadding": 4, "title": null}},
  "y": {"field": "y", "type": "quantitative", "scale": {"domain": [0, 1.4], "nice": false},
   "axis": {"values": [0,0.2,0.4,0.6,0.8,1,1.2,1.4], "tickCount": 20, "format": ".1~f", "tickSize": 5, "labelPadding": 9, "title": null}},
  "strokeDash": {"field": "s", "type": "nominal", "scale": {"domain": ["F","f1","f2","f3","f4"], "range": [[1,0],[1.5,1.5],[3,2],[6,3],[1,0]]},
   "legend": {"orient": "none", "legendX": 66, "legendY": 393, "direction": "horizontal", "columns": 5, "title": null, "symbolType": "stroke", "symbolSize": 1225, "symbolStrokeColor": "black", "labelFont": "DejaVu Serif", "labelFontStyle": "italic", "labelFontSize": 17, "labelColor": "black", "labelOffset": 4, "columnPadding": 12, "labelExpr": "datum.label == 'F' ? 'F' : datum.label == 'f1' ? '|f ⁽¹⁾|' : datum.label == 'f2' ? '|f ⁽²⁾|' : datum.label == 'f3' ? '|f ⁽³⁾|' : '|f ⁽⁴⁾|'"}},
  "strokeWidth": {"field": "s", "type": "nominal", "scale": {"domain": ["F","f1","f2","f3","f4"], "range": [2.2,1,1,1,1]},
   "legend": {"orient": "none", "legendX": 66, "legendY": 393, "direction": "horizontal", "columns": 5, "title": null, "symbolType": "stroke", "symbolSize": 1225, "symbolStrokeColor": "black", "labelFont": "DejaVu Serif", "labelFontStyle": "italic", "labelFontSize": 17, "labelColor": "black", "labelOffset": 4, "columnPadding": 12, "labelExpr": "datum.label == 'F' ? 'F' : datum.label == 'f1' ? '|f ⁽¹⁾|' : datum.label == 'f2' ? '|f ⁽²⁾|' : datum.label == 'f3' ? '|f ⁽³⁾|' : '|f ⁽⁴⁾|'"}}
 }},
{"data": {"values": [{}]},
 "mark": {"type": "text", "font": "Liberation Serif", "fontSize": 21, "align": "left", "baseline": "middle", "color": "black"},
 "encoding": {"x": {"datum": -1.436}, "y": {"datum": 1.314}, "text": {"value": "φ = 270°"}}},
{"data": {"values": [{}]},
 "mark": {"type": "text", "font": "Liberation Serif", "fontSize": 21, "align": "right", "baseline": "middle", "color": "black"},
 "encoding": {"x": {"datum": 1.6}, "y": {"datum": 1.314}, "text": {"value": "φ = 90°"}}},
{"data": {"values": [{}]},
 "mark": {"type": "text", "font": "Liberation Serif", "fontSize": 22, "fontStyle": "italic", "align": "center", "baseline": "middle", "color": "black"},
 "encoding": {"x": {"datum": 1.504}, "y": {"datum": 0.127}, "text": {"value": "ϑ"}}}
]
}
]
}
